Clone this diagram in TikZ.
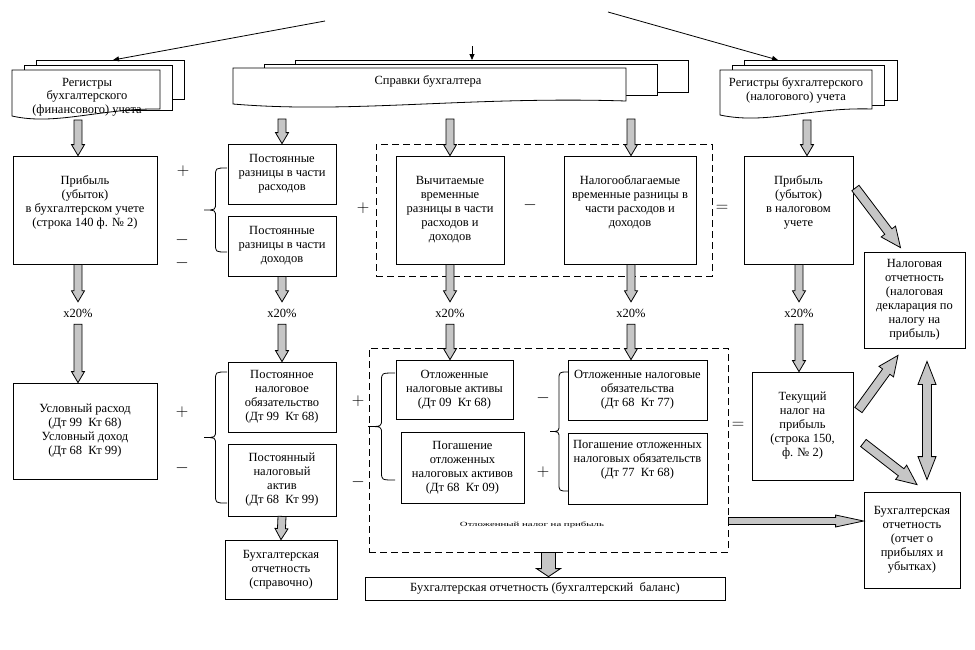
\documentclass[tikz,border=0pt]{standalone}
\usepackage{fontspec}
\setmainfont{Liberation Serif}
\usepackage{graphicx}
\usetikzlibrary{arrows.meta,calc}
\tikzset{
  box/.style={draw, line width=0.8pt, fill=white, align=center, inner sep=1pt},
  dashbox/.style={draw, line width=0.8pt, dash pattern=on 7pt off 4pt, inner sep=0pt},
  sheet/.style={draw, line width=0.8pt, fill=white},
  lbl/.style={inner sep=0pt, minimum height=22pt},
  sign/.style={inner sep=0pt, font=\fontsize{16}{16}\selectfont},
  note/.style={inner sep=0pt, font=\fontsize{8}{9}\selectfont},
  thinarr/.style={line width=0.8pt, -{Triangle[length=6pt,width=5pt]}},
  fat/.style n args={3}{draw=black, line width=0.8pt, fill=gray!45, to path={
    let \p1=(\tikztostart), \p2=(\tikztotarget),
        \n1={atan2(\y2-\y1,\x2-\x1)}, \n2={veclen(\x2-\x1,\y2-\y1)-#3} in
    ($(\p1)+(\n1+90:#1)$) -- ($(\p1)+(\n1:\n2)+(\n1+90:#1)$)
    -- ($(\p1)+(\n1:\n2)+(\n1+90:#2)$) -- (\p2)
    -- ($(\p1)+(\n1:\n2)+(\n1-90:#2)$) -- ($(\p1)+(\n1:\n2)+(\n1-90:#1)$)
    -- ($(\p1)+(\n1-90:#1)$) -- cycle}},
  fatboth/.style n args={3}{draw=black, line width=0.8pt, fill=gray!45, to path={
    let \p1=(\tikztostart), \p2=(\tikztotarget),
        \n1={atan2(\y2-\y1,\x2-\x1)}, \n2={veclen(\x2-\x1,\y2-\y1)-#3} in
    (\p1) -- ($(\p1)+(\n1:#3)+(\n1+90:#2)$) -- ($(\p1)+(\n1:#3)+(\n1+90:#1)$)
    -- ($(\p1)+(\n1:\n2)+(\n1+90:#1)$) -- ($(\p1)+(\n1:\n2)+(\n1+90:#2)$) -- (\p2)
    -- ($(\p1)+(\n1:\n2)+(\n1-90:#2)$) -- ($(\p1)+(\n1:\n2)+(\n1-90:#1)$)
    -- ($(\p1)+(\n1:#3)+(\n1-90:#1)$) -- ($(\p1)+(\n1:#3)+(\n1-90:#2)$) -- cycle}},
  fatarr/.style={fat={4pt}{6.5pt}{11pt}},
}
\begin{document}
\begin{tikzpicture}[x=1pt, y=-1pt, font=\fontsize{12.5}{14}\selectfont]
\fill[white] (0,0) rectangle (975,649);
\useasboundingbox (0,0) rectangle (975,649);

% stacks of documents
\draw[sheet] (36,60) rectangle (184,99);
\draw[sheet] (24,65) rectangle (172,110);
\draw[sheet] (12,70) -- (12,116) .. controls (56,126) and (101,108) .. (160,109) -- (160,70) -- cycle;
\draw[sheet] (295,60) rectangle (688,92);
\draw[sheet] (264,64) rectangle (657,95);
\draw[sheet] (233,68) -- (233,104) .. controls (351,114) and (469,96) .. (626,101) -- (626,68) -- cycle;
\draw[sheet] (744,60) rectangle (897,100);
\draw[sheet] (732,65) rectangle (884,105);
\draw[sheet] (720,70) -- (720,115) .. controls (766,125) and (811,107) .. (872,109) -- (872,70) -- cycle;
\node[align=center] (regf) at (87,97) {Регистры\\[-0.5pt]бухгалтерского\\[-0.5pt](финансового) учета};
\node (spr) at (428,81) {Справки бухгалтера};
\node[align=center] (regn) at (796,90) {Регистры бухгалтерского\\(налогового) учета};

\coordinate (sf) at (113,60);
\coordinate (ss) at (472,60);
\coordinate (sn) at (778,60);
\coordinate (t1) at (325,21);
\coordinate (t2) at (472,46);
\coordinate (t3) at (608,12);
\draw[thinarr] (t1) -- (sf);
\draw[thinarr] (t2) -- (ss);
\draw[thinarr] (t3) -- (sn);

% first row
\node[box, minimum width=144pt, minimum height=108pt, text depth=17pt] (pf) at (85,210) {Прибыль\\(убыток)\\в бухгалтерском учете\\(строка 140 ф. № 2)};
\node[box, minimum width=108pt, minimum height=60pt] (pr) at (282,174) {Постоянные\\разницы в части\\расходов};
\node[box, minimum width=108pt, minimum height=60pt] (pd) at (282,246) {Постоянные\\разницы в части\\доходов};
\node[dashbox, minimum width=336pt, minimum height=132pt] (d1) at (544,210) {};
\node[box, minimum width=108pt, minimum height=108pt] (vv) at (450,210) {Вычитаемые\\временные\\разницы в части\\расходов и\\доходов};
\node[box, minimum width=132pt, minimum height=108pt, text depth=18pt] (nv) at (630,210) {Налогооблагаемые\\временные разницы в\\части расходов и\\доходов};
\node[box, minimum width=109pt, minimum height=108pt, text depth=17pt] (pn) at (798.5,210) {Прибыль\\(убыток)\\в налоговом\\учете};
\node[box, minimum width=101pt, minimum height=96pt] (no) at (914.5,300) {Налоговая\\отчетность\\(налоговая\\декларация по\\налогу на\\прибыль)};

\foreach \n/\x in {x1/78, x2/282, x3/450, x4/631, x5/799}
  \node[lbl] (\n) at (\x,313) {x20\%};

% second row
\node[box, minimum width=144pt, minimum height=96pt] (us) at (85,431) {Условный расход\\(Дт 99~~Кт 68)\\Условный доход\\(Дт 68~~Кт 99)};
\node[box, minimum width=108pt, minimum height=70pt] (po) at (282,397) {Постоянное\\налоговое\\обязательство\\(Дт 99~~Кт 68)};
\node[box, minimum width=108pt, minimum height=72pt] (pa) at (282,480) {Постоянный\\налоговый\\актив\\(Дт 68~~Кт 99)};
\node[box, minimum width=112pt, minimum height=59pt] (bs) at (281,569.5) {Бухгалтерская\\отчетность\\(справочно)};
\node[dashbox, minimum width=359pt, minimum height=204pt] (d2) at (548.5,450) {};
\node[box, minimum width=117pt, minimum height=59pt] (ona) at (454.5,389.5) {Отложенные\\налоговые активы\\(Дт 09~~Кт 68)};
\node[box, minimum width=123pt, minimum height=71pt] (pona) at (462.5,467.5) {Погашение\\отложенных\\налоговых активов\\(Дт 68~~Кт 09)};
\node[box, minimum width=139pt, minimum height=60pt] (ono) at (637.5,390) {Отложенные налоговые\\обязательства\\(Дт 68~~Кт 77)};
\node[box, minimum width=139pt, minimum height=71pt, text depth=21pt] (pono) at (637.5,468.5) {Погашение отложенных\\налоговых обязательств\\(Дт 77~~Кт 68)};
\node[note] (dn) at (532,525) {\scalebox{1.35}[0.8]{Отложенный налог на прибыль}};
\node[box, minimum width=101pt, minimum height=108pt] (tn) at (802.5,426) {Текущий\\налог на\\прибыль\\(строка 150,\\ф. № 2)};
\node[box, minimum width=96pt, minimum height=96pt] (bo) at (912,540) {Бухгалтерская\\отчетность\\(отчет о\\прибылях и\\убытках)};
\node[box, minimum width=360pt, minimum height=23pt] (bb) at (545,588.5) {Бухгалтерская отчетность (бухгалтерский~~баланс)};

% signs
\foreach \s/\x/\y [count=\i] in {+/183/171, -/182/240, -/182/263, +/363/208, -/530/205, =/722/208,
    +/182/412, -/182/468, +/358/401, -/358/482, -/543/398, +/543/472, =/738/425}
  \node[sign] (sg\i) at (\x,\y) {$\s$};

% braces
\foreach \ex/\tx/\ya/\yb in {227/204/168/252, 227/204/372/503, 395/368/373/480, 568/550/372/491}{
  \pgfmathsetmacro{\mx}{(\ex+\tx)/2}
  \pgfmathsetmacro{\yc}{(\ya+\yb)/2}
  \draw[line width=0.8pt] (\ex,\ya) .. controls (\mx,\ya) .. (\mx,\ya+8) -- (\mx,\yc-7)
    .. controls (\mx,\yc) .. (\tx,\yc) .. controls (\mx,\yc) .. (\mx,\yc+7)
    -- (\mx,\yb-8) .. controls (\mx,\yb) .. (\ex,\yb);
}

% block arrows
\coordinate (rf) at (78,120);
\coordinate (sp1) at (282,119);
\coordinate (sp2) at (450,119);
\coordinate (sp3) at (631,119);
\coordinate (rn) at (807,120);
\coordinate (d2out) at ([yshift=-71pt]d2.east);
\draw[fatarr] (rf) to (rf |- pf.north);
\draw[fatarr] (sp1) to (sp1 |- pr.north);
\draw[fatarr] (sp2) to (sp2 |- vv.north);
\draw[fatarr] (sp3) to (sp3 |- nv.north);
\draw[fatarr] (rn) to (rn |- pn.north);
\draw[fatarr] (pf.south -| x1) to (x1.north);
\draw[fatarr] (x1.south) to (x1.south |- us.north);
\draw[fatarr] (pd.south) to (x2.north);
\draw[fatarr] (x2.south) to (po.north);
\draw[fatarr] (vv.south) to (x3.north);
\draw[fatarr] (x3.south) to (x3.south |- ona.north);
\draw[fatarr] (nv.south -| x4) to (x4.north);
\draw[fatarr] (x4.south) to (x4.south |- ono.north);
\draw[fatarr] (pn.south -| x5) to (x5.north);
\draw[fatarr] (x5.south) to (x5.south |- tn.north);
\draw[fatarr] (pa.south) to (bs.north);
\draw[fat={7pt}{12pt}{8pt}] (d2.south) to (d2.south |- bb.north);
\draw[fat={3.5pt}{6pt}{28pt}] (d2out) to (d2out -| bo.west);
\draw[fat={4.5pt}{9pt}{20pt}] ([xshift=2pt,yshift=22pt]pn.east) to ([xshift=-14pt,yshift=4pt]no.north);
\draw[fat={4.5pt}{9pt}{20pt}] ([xshift=5pt,yshift=16pt]tn.east) to ([xshift=-16.5pt,yshift=-7pt]no.south);
\draw[fat={4.5pt}{9pt}{20pt}] ([xshift=10pt,yshift=-17pt]tn.east) to ([xshift=5pt,yshift=7pt]bo.north);
\draw[fatboth={4.5pt}{9pt}{23pt}] ([xshift=12.5pt,yshift=-13pt]no.south) to ([xshift=15pt,yshift=12pt]bo.north);
\end{tikzpicture}
\end{document}
